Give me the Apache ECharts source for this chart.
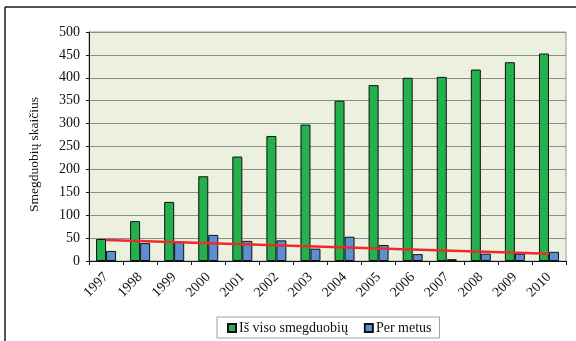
<!DOCTYPE html>
<html>
<head>
<meta charset="utf-8">
<script src="https://cdn.jsdelivr.net/npm/echarts@6/dist/echarts.min.js"></script>
<style>
  html, body { margin: 0; padding: 0; background: #ffffff; }
  #chart { width: 576px; height: 341px; }
</style>
</head>
<body>
<div id="chart"></div>
<script>
// Sinkhole counts in Lithuania, 1997–2010
const years = ['1997', '1998', '1999', '2000', '2001', '2002', '2003',
               '2004', '2005', '2006', '2007', '2008', '2009', '2010'];
// cumulative total
const totalCount = [48, 87, 129, 185, 228, 273, 298, 350, 384, 400, 402, 418, 434, 453];
// new per year
const perYear = [22, 39, 43, 57, 44, 45, 27, 53, 35, 15, 4, 16, 16, 20];
// linear trend of the yearly values: first and last year
const trendEnds = [46, 16];
const yTicks = [0, 50, 100, 150, 200, 250, 300, 350, 400, 450, 500];

const serif = '"Liberation Serif", "DejaVu Serif", serif';

const chart = echarts.init(document.getElementById('chart'), null, { renderer: 'canvas' });

chart.setOption({
  animation: false,
  backgroundColor: '#ffffff',
  graphic: [
    { type: 'line', shape: { x1: 5, y1: 7, x2: 576, y2: 7 }, style: { stroke: '#1a1a1a', lineWidth: 1.5 } },
    { type: 'line', shape: { x1: 5, y1: 7, x2: 5, y2: 341 }, style: { stroke: '#1a1a1a', lineWidth: 1.5 } }
  ],
  grid: {
    left: 89, right: 10, top: 32, bottom: 80,
    show: true,
    backgroundColor: '#ebf1de',
    borderColor: '#9a9a9a',
    borderWidth: 1
  },
  legend: {
    data: ['Iš viso smegduobių', 'Per metus'],
    left: 217, top: 317,
    width: 222,
    padding: [4, 8, 3, 10],
    borderColor: '#a0a0a0',
    borderWidth: 1,
    itemWidth: 8, itemHeight: 8,
    itemGap: 16,
    icon: 'rect',
    textStyle: { fontFamily: serif, fontSize: 14, color: '#111', padding: [0, 0, 0, -2] }
  },
  xAxis: {
    type: 'category',
    data: years,
    boundaryGap: true,
    axisLine: { lineStyle: { color: '#111', width: 1 } },
    axisTick: { show: true, length: 4, lineStyle: { color: '#111' } },
    axisLabel: {
      rotate: 45, margin: 14, interval: 0,
      fontFamily: serif, fontSize: 14, color: '#111'
    }
  },
  yAxis: {
    type: 'value',
    min: yTicks[0], max: yTicks[yTicks.length - 1], interval: 50,
    name: 'Smegduobių skaičius',
    nameLocation: 'middle',
    nameRotate: 90,
    nameGap: 48,
    nameTextStyle: { fontFamily: serif, fontSize: 13.5, color: '#111', padding: [0, 16, 0, 0] },
    axisLine: { show: true, lineStyle: { color: '#111', width: 1 } },
    axisTick: { show: true, length: 3, lineStyle: { color: '#111' } },
    axisLabel: { margin: 9, fontFamily: serif, fontSize: 14, color: '#111' },
    splitLine: { show: true, lineStyle: { color: '#8c8c8c', width: 1 } }
  },
  series: [
    {
      name: 'Iš viso smegduobių',
      type: 'bar',
      data: totalCount,
      barWidth: 10,
      barGap: '0%',
      itemStyle: { color: '#22b14c', borderColor: '#111', borderWidth: 1 }
    },
    {
      name: 'Per metus',
      type: 'bar',
      data: perYear,
      barWidth: 10,
      barGap: '0%',
      itemStyle: { color: '#5b8fd0', borderColor: '#111', borderWidth: 1 }
    },
    {
      name: 'Trend',
      type: 'line',
      data: [[years[0], trendEnds[0]], [years[years.length - 1], trendEnds[1]]],
      symbol: 'none',
      lineStyle: { color: '#ee2a2a', width: 2.5 },
      z: 5
    }
  ]
});
</script>
</body>
</html>
